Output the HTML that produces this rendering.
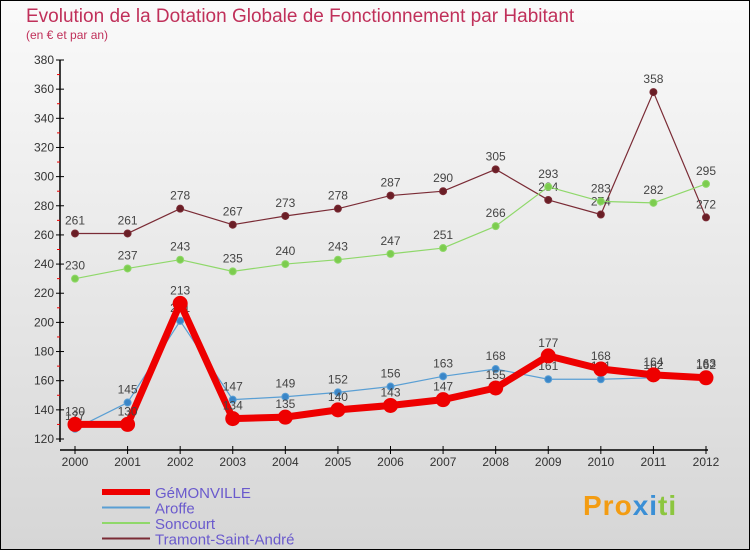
<!DOCTYPE html>
<html><head><meta charset="utf-8"><style>
body{margin:0}
#c{width:750px;height:550px;position:relative;box-sizing:border-box;border:1px solid #000;background:linear-gradient(#fafafa,#d6d6d6);font-family:"Liberation Sans",sans-serif;overflow:hidden}
</style></head><body>
<div id="c">
<svg id="s" width="750" height="550" style="position:absolute;left:-1px;top:-1px">
<text x="26" y="22" font-size="19" fill="#c0305a">Evolution de la Dotation Globale de Fonctionnement par Habitant</text>
<text x="26" y="39" font-size="12" fill="#c0305a">(en € et par an)</text>
<g id="g"></g>
</svg>
<div style="position:absolute;left:582px;top:489px;font-size:28px;font-weight:bold;color:#f39c12;letter-spacing:1px">Pro<span style="color:#3a8fd6">x</span><span style="color:#3a8fd6">i</span><span style="color:#8cc63f">ti</span></div>
</div>
<script>
const years=[2000,2001,2002,2003,2004,2005,2006,2007,2008,2009,2010,2011,2012];
const gemonville=[130,130,213,134,135,140,143,147,155,177,168,164,162];
const aroffe=[127,145,201,147,149,152,156,163,168,161,161,162,163];
const soncourt=[230,237,243,235,240,243,247,251,266,293,283,282,295];
const tramont=[261,261,278,267,273,278,287,290,305,284,274,358,272];
const yTicks=[120,140,160,180,200,220,240,260,280,300,320,340,360,380];
const NS="http://www.w3.org/2000/svg";
const g=document.getElementById('g');
const X=i=>75+i*(706-75)/12;
const Y=v=>439-(v-120)*(379/260);
function el(t,a,p){const e=document.createElementNS(NS,t);for(const k in a)e.setAttribute(k,a[k]);(p||g).appendChild(e);return e;}
let ax=el('line',{x1:60,y1:Y(380),x2:60,y2:Y(120)+3,stroke:'#000','stroke-width':1.5});


yTicks.forEach(v=>{
 el('line',{x1:56,x2:64,y1:Y(v),y2:Y(v),stroke:'#000'});
 if(v<380){const m=el('line',{x1:57,x2:60,y1:Y(v+10),y2:Y(v+10),stroke:'#e00'});}
 const t=el('text',{x:54,y:Y(v)+4,'font-size':12,fill:'#333','text-anchor':'end'});
 t.textContent=v;
 
 
});
let xa=el('line',{x1:60,y1:450,x2:708,y2:450,stroke:'#000','stroke-width':1.5});


years.forEach((y,i)=>{
 el('line',{x1:X(i),x2:X(i),y1:446,y2:454,stroke:'#000'});
 const t=el('text',{x:X(i),y:466,'font-size':12,fill:'#333','text-anchor':'middle'});
 t.textContent=y;
 
 
});
function series(data,color,w,r,name,dot){
 const grp=el('g',{});
 
 
 el('polyline',{points:data.map((v,i)=>X(i)+','+Y(v)).join(' '),fill:'none',stroke:color,'stroke-width':w,'stroke-linejoin':'round'},grp);
 data.forEach((v,i)=>{
  const c=el('circle',{cx:X(i),cy:Y(v),r:r,fill:dot,stroke:color,'stroke-width':1},grp);
  
  
  const t=el('text',{x:X(i),y:Y(v)-9,'font-size':12,fill:'#444','text-anchor':'middle'},grp);
  t.textContent=v;
 });
}
series(tramont,'#7a2b35',1.2,3.5,'series-tramont','#6a1e26');
series(soncourt,'#8fd86a',1.2,3.5,'series-soncourt','#7ccc4e');
series(aroffe,'#5a9fd4',1.2,3.5,'series-aroffe','#3a86c8');
series(gemonville,'#ee0000',7,7,'series-gemonville','#ee0000');
const leg=[['GéMONVILLE','#ee0000',6],['Aroffe','#5a9fd4',2],['Soncourt','#8fd86a',2],['Tramont-Saint-André','#7a2b35',2]];
leg.forEach((l,i)=>{
 const y=492+i*15.5;
 const grp=el('g',{});
 
 
 el('line',{x1:102,x2:150,y1:y,y2:y,stroke:l[1],'stroke-width':l[2]},grp);
 const t=el('text',{x:155,y:y+6,'font-size':15,fill:'#6a5acd'},grp);
 t.textContent=l[0];
});
</script>
</body></html>
